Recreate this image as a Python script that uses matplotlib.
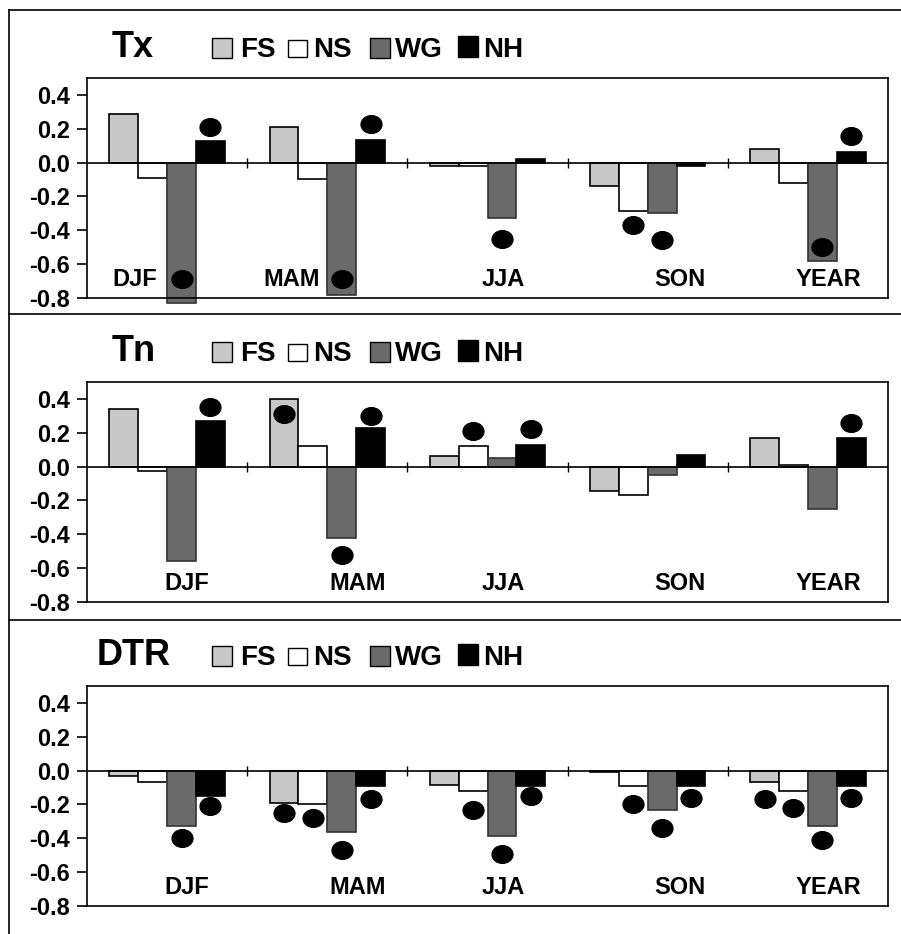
import numpy as np
import matplotlib
matplotlib.use("Agg")
import matplotlib.pyplot as plt
from matplotlib.path import Path
from matplotlib.transforms import Affine2D
from matplotlib.patches import Rectangle
from matplotlib.lines import Line2D

plt.rcParams['font.family'] = ['Liberation Sans', 'DejaVu Sans']
plt.rcParams['font.weight'] = 'bold'
plt.rcParams['axes.unicode_minus'] = False

nan = np.nan
seasons = ['DJF', 'MAM', 'JJA', 'SON', 'YEAR']
series = ['FS', 'NS', 'WG', 'NH']
ytick_vals = [-0.8, -0.6, -0.4, -0.2, 0.0, 0.2, 0.4]
ytick_labels = ['-0.8', '-0.6', '-0.4', '-0.2', '0.0', '0.2', '0.4']

# bar values
tx_fs = [0.29, 0.21, -0.02, -0.14, 0.08]
tx_ns = [-0.09, -0.095, -0.02, -0.285, -0.12]
tx_wg = [-0.83, -0.78, -0.33, -0.30, -0.58]
tx_nh = [0.125, 0.135, 0.02, -0.02, 0.06]

tn_fs = [0.34, 0.40, 0.06, -0.145, 0.17]
tn_ns = [-0.025, 0.12, 0.12, -0.17, 0.01]
tn_wg = [-0.56, -0.42, 0.05, -0.05, -0.25]
tn_nh = [0.27, 0.23, 0.13, 0.07, 0.17]

dtr_fs = [-0.03, -0.19, -0.085, -0.01, -0.065]
dtr_ns = [-0.07, -0.20, -0.12, -0.09, -0.12]
dtr_wg = [-0.325, -0.36, -0.385, -0.23, -0.33]
dtr_nh = [-0.15, -0.09, -0.09, -0.09, -0.09]

# black dots (nan = no dot)
tx_dot_fs = [nan, nan, nan, nan, nan]
tx_dot_ns = [nan, nan, nan, -0.37, nan]
tx_dot_wg = [-0.69, -0.69, -0.45, -0.46, -0.50]
tx_dot_nh = [0.21, 0.23, nan, nan, 0.155]

tn_dot_fs = [nan, 0.31, nan, nan, nan]
tn_dot_ns = [nan, nan, 0.21, nan, nan]
tn_dot_wg = [nan, -0.52, nan, nan, nan]
tn_dot_nh = [0.35, 0.30, 0.22, nan, 0.26]

dtr_dot_fs = [nan, -0.25, nan, nan, -0.17]
dtr_dot_ns = [nan, -0.28, -0.23, -0.20, -0.22]
dtr_dot_wg = [-0.40, -0.47, -0.49, -0.34, -0.41]
dtr_dot_nh = [-0.21, -0.17, -0.15, -0.16, -0.16]

colors = ['#c8c8c8', 'white', '#6a6a6a', 'black']
edges = ['black', 'black', '#333333', 'black']

W, H = 901, 934
fig = plt.figure(figsize=(W / 100, H / 100), dpi=100)


def fx(px):
    return px / W


def fy(py):
    return 1 - py / H


dot = Affine2D().scale(1, 0.85).transform_path(Path.unit_circle())

panels = [
    ('Tx', [tx_fs, tx_ns, tx_wg, tx_nh], [tx_dot_fs, tx_dot_ns, tx_dot_wg, tx_dot_nh],
     0, 112, [-0.2, 0.78, 2.1, 3.2, 4.125]),
    ('Tn', [tn_fs, tn_ns, tn_wg, tn_nh], [tn_dot_fs, tn_dot_ns, tn_dot_wg, tn_dot_nh],
     304, 112, [0.125, 1.19, 2.1, 3.2, 4.125]),
    ('DTR', [dtr_fs, dtr_ns, dtr_wg, dtr_nh], [dtr_dot_fs, dtr_dot_ns, dtr_dot_wg, dtr_dot_nh],
     608, 97, [0.125, 1.19, 2.1, 3.2, 4.125]),
]

width = 0.18
offsets = [-1.5 * width, -0.5 * width, 0.5 * width, 1.5 * width]
x = np.arange(len(seasons))

# legend swatches: left, top, w, h, text x (pixels, relative to panel)
swatches = [(212, 38, 20, 20, 240), (288, 40, 19, 17, 313),
            (370, 38, 20, 20, 395), (458, 36, 20, 21, 483)]

for title, vals, dots, off, title_x, label_x in panels:
    top = 78 + off
    ax = fig.add_axes([fx(87), fy(top + 220), (888 - 87) / W, 220 / H])
    for j in range(4):
        ax.bar(x + offsets[j], vals[j], width=width, color=colors[j],
               edgecolor=edges[j], linewidth=1.2, clip_on=False, zorder=2)
    for j in range(4):
        ax.plot(x + offsets[j], dots[j], ls='none', marker=dot, ms=15,
                color='black', clip_on=False, zorder=4)
    ax.axhline(0, color='black', lw=1.2, zorder=3)
    ax.vlines([0.5, 1.5, 2.5, 3.5], -0.03, 0.03, color='black', lw=1, zorder=3)
    for lx, name in zip(label_x, seasons):
        ax.text(lx, -0.69, name, ha='center', va='center', fontsize=17,
                fontweight='bold')
    ax.set_xlim(-0.5, 4.5)
    ax.set_ylim(-0.8, 0.5)
    ax.set_xticks([])
    ax.set_yticks(ytick_vals)
    ax.set_yticklabels(ytick_labels)
    ax.tick_params(axis='y', direction='out', length=7, width=1.2,
                   labelsize=17, pad=5)
    for sp in ax.spines.values():
        sp.set_linewidth(1.2)

    fig.text(fx(title_x), fy(57 + off), title, fontsize=26, fontweight='bold',
             va='baseline', ha='left')
    for (sx, sy, sw, sh, tx), name, c in zip(swatches, series, colors):
        fig.add_artist(Rectangle((fx(sx), fy(sy + off + sh)), sw / W, sh / H,
                                 transform=fig.transFigure, facecolor=c,
                                 edgecolor='black', linewidth=1))
        fig.text(fx(tx), fy(57 + off), name, fontsize=20, fontweight='bold',
                 va='baseline', ha='left')

# panel frame lines
for yl in [10, 314, 620]:
    fig.add_artist(Line2D([fx(9), 1], [fy(yl), fy(yl)], color='black', lw=1.2,
                          transform=fig.transFigure))
fig.add_artist(Line2D([fx(9), fx(9)], [fy(10), 0], color='black', lw=1.2,
                      transform=fig.transFigure))

fig.savefig('out.png', dpi=100, facecolor='white')
